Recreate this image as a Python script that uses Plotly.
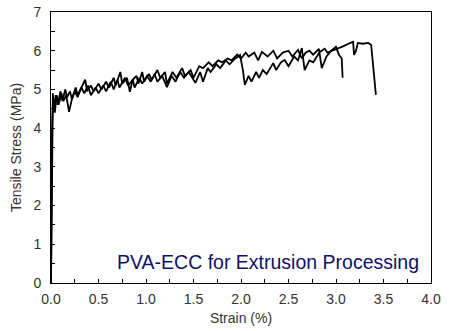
import plotly.graph_objects as go

# Curve A (ends near 3.07 % strain)
strain_a = [0, 0.005, 0.008, 0.01, 0.015, 0.02, 0.03, 0.05, 0.07, 0.10, 0.12, 0.15, 0.17, 0.20, 0.22,
            0.26, 0.28, 0.33, 0.36, 0.38, 0.42, 0.45, 0.50, 0.53, 0.58, 0.61, 0.66, 0.68, 0.73, 0.75,
            0.80, 0.83, 0.86, 0.90, 0.92, 0.96, 0.98, 1.03, 1.06, 1.12, 1.15, 1.20, 1.22, 1.28, 1.32,
            1.38, 1.41, 1.47, 1.50, 1.56, 1.60, 1.66, 1.70, 1.76, 1.80, 1.86, 1.90, 1.96, 2.00, 2.05,
            2.08, 2.14, 2.18, 2.22, 2.28, 2.34, 2.38, 2.44, 2.50, 2.54, 2.60, 2.64, 2.68, 2.72, 2.76,
            2.82, 2.85, 2.90, 2.95, 3.00, 3.03, 3.06, 3.07]
stress_a = [0, 1.5, 3.0, 4.0, 4.6, 4.9, 4.5, 4.85, 4.6, 4.95, 4.7, 5.0, 4.8, 4.95, 4.75,
            5.05, 4.85, 5.1, 5.25, 4.95, 5.1, 4.95, 5.15, 5.0, 5.2, 5.05, 5.3, 5.1, 5.45, 5.15,
            5.3, 4.94, 5.25, 5.35, 5.15, 5.45, 5.2, 5.4, 5.25, 5.5, 5.3, 5.45, 5.15, 5.45, 5.3,
            5.55, 5.35, 5.5, 5.3, 5.6, 5.55, 5.7, 5.6, 5.75, 5.7, 5.8, 5.75, 5.9, 5.8, 5.95,
            5.85, 5.95, 5.75, 5.97, 5.85, 6.0, 5.8, 5.95, 6.0, 5.85, 6.02, 5.8, 5.95, 6.0, 5.9,
            6.05, 5.55, 5.85, 6.0, 6.1, 5.9, 5.8, 5.3]

# Curve B (ends near 3.42 % strain)
strain_b = [0, 0.004, 0.006, 0.009, 0.012, 0.02, 0.04, 0.06, 0.08, 0.11, 0.13, 0.16, 0.19, 0.22, 0.25,
            0.28, 0.32, 0.35, 0.39, 0.42, 0.47, 0.50, 0.55, 0.58, 0.63, 0.66, 0.70, 0.72, 0.78, 0.81,
            0.86, 0.88, 0.93, 0.96, 1.01, 1.05, 1.09, 1.12, 1.17, 1.22, 1.27, 1.31, 1.36, 1.40, 1.45,
            1.52, 1.57, 1.60, 1.65, 1.68, 1.74, 1.78, 1.84, 1.88, 1.94, 1.99, 2.02, 2.04, 2.08, 2.11,
            2.16, 2.19, 2.23, 2.27, 2.34, 2.37, 2.42, 2.46, 2.50, 2.56, 2.60, 2.64, 2.67, 2.72, 2.76,
            2.83, 2.88, 2.91, 2.96, 3.02, 3.08, 3.13, 3.18, 3.19, 3.21, 3.23, 3.28, 3.34, 3.37, 3.38,
            3.40, 3.42]
stress_b = [0, 0.8, 2.0, 3.8, 4.4, 4.7, 4.4, 4.85, 4.6, 4.9, 4.7, 4.85, 4.42, 4.75, 4.95,
            4.8, 5.05, 4.9, 5.1, 4.85, 5.05, 4.9, 5.1, 4.95, 5.2, 5.0, 5.25, 5.05, 5.3, 5.1,
            5.25, 5.05, 5.3, 5.15, 5.35, 5.2, 5.4, 5.2, 5.35, 5.06, 5.35, 5.2, 5.45, 5.3, 5.45,
            5.17, 5.45, 5.2, 5.55, 5.45, 5.65, 5.55, 5.75, 5.65, 5.8, 5.89, 5.5, 5.12, 5.35, 5.2,
            5.45, 5.3, 5.5, 5.4, 5.68, 5.5, 5.7, 5.76, 5.6, 5.85, 5.75, 6.07, 5.5, 5.75, 5.7,
            5.97, 6.05, 5.95, 6.0, 6.05, 6.12, 6.18, 6.23, 5.89, 6.0, 6.2, 6.18, 6.2, 6.15, 5.9,
            5.3, 4.86]

label_text = "PVA-ECC for Extrusion Processing"
x_title = "Strain (%)"
y_title = "Tensile Stress (MPa)"

fig = go.Figure()
for sx, sy in [(strain_a, stress_a), (strain_b, stress_b)]:
    fig.add_trace(go.Scatter(x=sx, y=sy, mode="lines",
                             line=dict(color="black", width=1.8), showlegend=False))

font_family = "Liberation Sans, Arial, sans-serif"
axis_common = dict(showgrid=False, zeroline=False, showline=True, linecolor="black",
                   linewidth=1, mirror=True, ticks="inside", ticklen=4, tickcolor="black",
                   automargin=False,
                   tickfont=dict(family=font_family, size=14, color="#333"))

fig.update_xaxes(range=[0, 4], dtick=0.5, tickformat=".1f", ticklabelstandoff=3,
                 minor=dict(dtick=0.25, ticks="inside", ticklen=4, tickcolor="black"),
                 title=dict(text=x_title, font=dict(family=font_family, size=14, color="#333"),
                            standoff=7),
                 **axis_common)
fig.update_yaxes(range=[0, 7], dtick=1, ticklabelstandoff=6,
                 minor=dict(dtick=0.5, ticks="inside", ticklen=4, tickcolor="black"),
                 title=dict(text=y_title, font=dict(family=font_family, size=14, color="#333"),
                            standoff=8),
                 **axis_common)

fig.add_annotation(text=label_text, xref="paper", yref="paper",
                   x=(267.5 - 51) / 380, y=(283 - 262) / 271,
                   xanchor="center", yanchor="middle", showarrow=False,
                   font=dict(family=font_family, size=19.5, color="#10106a"))

fig.update_layout(width=450, height=331, margin=dict(l=51, r=19, t=12, b=48),
                  plot_bgcolor="white", paper_bgcolor="white")

fig.write_html("out.html")
